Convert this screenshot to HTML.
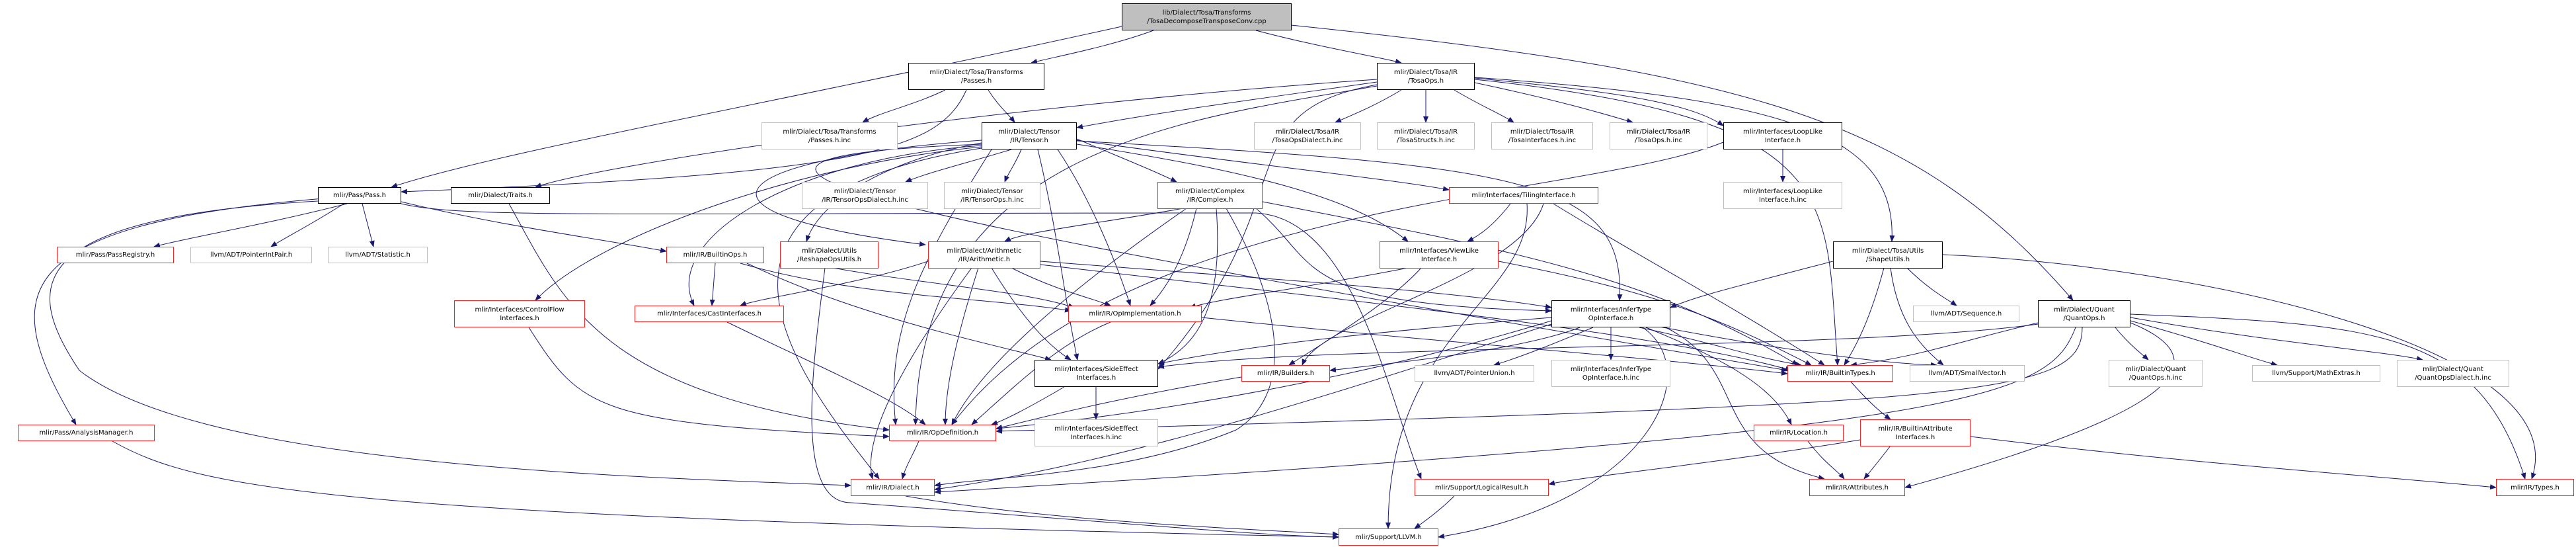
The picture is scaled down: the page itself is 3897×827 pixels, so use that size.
<!DOCTYPE html>
<html><head><meta charset="utf-8"><style>
html,body{margin:0;padding:0;background:#fff;}
body{width:3897px;height:827px;position:relative;overflow:hidden;font-family:"DejaVu Sans","Liberation Sans",sans-serif;}
.n{position:absolute;box-sizing:border-box;border:1.3px solid #000;background:#fff;font-size:10px;line-height:13px;color:#000;text-align:center;display:flex;align-items:center;justify-content:center;white-space:nowrap;}
.r{border-color:#ff2020;}
.g{border-color:#bfbfbf;}
.root{background:#bfbfbf;}
svg{position:absolute;left:0;top:0;}
</style></head><body>
<svg width="3897" height="827" viewBox="0 0 3897 827">
<defs><marker id="a" viewBox="0 0 10 10" refX="9" refY="5" markerWidth="10" markerHeight="10" markerUnits="userSpaceOnUse" orient="auto"><path d="M0,1 L10,5 L0,9 z" fill="#191970"/></marker></defs>
<g fill="none" stroke="#191970" stroke-width="1" marker-end="url(#a)">
<path d="M1697,40 C1200,150 750,230 592,283"/>
<path d="M1745,46 C1680,70 1600,85 1560,95"/>
<path d="M1900,46 C1990,70 2080,85 2120,95"/>
<path d="M1953,38 C2650,110 2900,180 3136,454"/>
<path d="M1430,136 C1380,160 1330,170 1305,185"/>
<path d="M1495,136 C1510,160 1525,172 1535,185"/>
<path d="M1462,136 C1420,230 1300,262 607,290"/>
<path d="M2083,124 C1900,150 1750,170 1629,193"/>
<path d="M2120,136 C2080,160 2050,172 2020,185"/>
<path d="M2157,136 L2157,185"/>
<path d="M2200,136 C2240,160 2270,172 2290,185"/>
<path d="M2231,125 C2350,150 2420,170 2470,185"/>
<path d="M2231,118 C2400,135 2550,150 2607,190"/>
<path d="M2231,117 C2700,150 2870,200 2862,365"/>
<path d="M2231,120 C2800,180 2760,300 2780,552"/>
<path d="M2083,128 C1850,170 1980,300 1752,558"/>
<path d="M2083,120 C1500,160 900,250 810,283"/>
<path d="M2083,130 C1800,180 1390,220 1385,642"/>
<path d="M1530,226 C1450,250 1400,262 1370,275"/>
<path d="M1545,226 C1535,250 1525,262 1520,275"/>
<path d="M1629,210 C1700,240 1750,260 1780,275"/>
<path d="M1629,212 C1900,250 2100,270 2192,287"/>
<path d="M1629,218 C1900,260 2050,300 2130,365"/>
<path d="M1629,213 C2300,250 2460,270 2450,454"/>
<path d="M1600,226 C1650,300 1690,400 1710,462"/>
<path d="M1570,226 C1600,350 1610,450 1630,544"/>
<path d="M1485,212 C1100,240 1000,320 1400,370"/>
<path d="M1485,216 C1350,240 1240,300 1220,365"/>
<path d="M1485,220 C1200,240 1000,360 1050,462"/>
<path d="M1485,222 C1200,250 900,360 810,454"/>
<path d="M1485,218 C900,240 1350,330 2704,560"/>
<path d="M1485,224 C1000,300 1200,560 1330,724"/>
<path d="M1500,226 C1390,400 1340,500 1355,642"/>
<path d="M490,300 C0,340 0,450 115,642"/>
<path d="M481,304 C20,330 40,440 120,560 C300,700 900,720 1287,734"/>
<path d="M525,308 C400,340 280,360 233,373"/>
<path d="M520,308 C470,340 430,360 410,373"/>
<path d="M548,308 L565,373"/>
<path d="M607,305 C750,340 900,360 1008,380"/>
<path d="M607,308 C700,330 900,322 1900,322 C2050,330 2100,600 2150,724"/>
<path d="M770,308 C850,450 900,600 1345,650"/>
<path d="M1082,398 L1077,462"/>
<path d="M1120,398 C1300,450 1500,450 1620,470"/>
<path d="M1130,398 C1300,480 1500,520 1590,544"/>
<path d="M1248,405 C1230,550 1200,760 1287,760 C1700,790 1900,810 2025,812"/>
<path d="M1260,405 C1400,430 1550,440 1625,465"/>
<path d="M800,495 C880,620 900,640 1345,660"/>
<path d="M1100,487 C1250,560 1350,600 1400,642"/>
<path d="M1790,315 C1650,340 1550,350 1520,365"/>
<path d="M1810,315 C1790,400 1760,440 1740,462"/>
<path d="M1795,315 C1600,450 1480,560 1440,642"/>
<path d="M1840,315 C1850,450 1820,520 1752,550"/>
<path d="M1900,315 C2000,400 1950,460 2347,470"/>
<path d="M1910,305 C2300,380 2500,420 2720,552"/>
<path d="M1855,315 C1950,480 1950,600 1870,650 C1700,720 1500,720 1414,734"/>
<path d="M1480,405 C1450,500 1430,580 1430,642"/>
<path d="M1500,405 C1540,470 1580,520 1620,544"/>
<path d="M1530,405 C1600,440 1650,450 1680,462"/>
<path d="M1574,395 C1900,420 2200,440 2347,465"/>
<path d="M1404,395 C1300,430 1150,450 1120,462"/>
<path d="M1470,405 C1400,500 1300,650 1320,724"/>
<path d="M1574,400 C2000,450 2500,500 2710,560"/>
<path d="M2285,308 C2260,340 2240,355 2220,365"/>
<path d="M2335,308 C2300,420 2000,480 1970,552"/>
<path d="M2350,308 C2500,400 2600,450 2760,552"/>
<path d="M2310,308 C2320,450 2100,500 2100,799"/>
<path d="M2130,405 C1950,440 1850,450 1800,465"/>
<path d="M2150,405 C2100,460 2000,520 1950,552"/>
<path d="M2267,395 C2500,440 2600,480 2740,552"/>
<path d="M1680,487 C1600,520 1540,580 1470,642"/>
<path d="M1818,480 C2200,520 2500,540 2704,565"/>
<path d="M2347,480 C2100,500 1900,520 1752,550"/>
<path d="M2390,495 C2300,530 2100,550 2012,560"/>
<path d="M2410,495 C2350,520 2300,540 2260,552"/>
<path d="M2437,495 L2437,544"/>
<path d="M2347,485 C2100,560 1800,620 1507,648"/>
<path d="M2480,495 C2600,520 2650,540 2725,552"/>
<path d="M2500,492 C2700,530 2850,550 2930,552"/>
<path d="M2490,495 C2600,540 2680,580 2710,642"/>
<path d="M2520,495 C2650,560 2580,680 2760,724"/>
<path d="M2485,495 C2580,560 2500,760 2176,812"/>
<path d="M2347,490 C2000,600 1700,700 1414,740"/>
<path d="M1658,585 L1658,634"/>
<path d="M1610,585 C1550,620 1520,635 1500,642"/>
<path d="M1878,570 C1700,600 1600,625 1507,648"/>
<path d="M1390,667 C1380,690 1370,705 1365,724"/>
<path d="M1370,750 C1600,790 1900,800 2025,808"/>
<path d="M2200,750 C2180,770 2160,785 2140,799"/>
<path d="M170,667 C300,740 500,780 2025,812"/>
<path d="M2800,577 C2820,600 2840,620 2860,634"/>
<path d="M2860,674 C2840,700 2830,712 2820,724"/>
<path d="M2981,660 C3300,700 3600,720 3776,737"/>
<path d="M2814,665 C2600,700 2400,720 2343,732"/>
<path d="M2735,667 C2760,700 2780,712 2790,724"/>
<path d="M2773,395 C2600,440 2560,450 2527,465"/>
<path d="M2850,405 C2830,480 2810,520 2790,552"/>
<path d="M2885,405 C2920,440 2950,455 2960,462"/>
<path d="M2860,405 C2870,480 2900,520 2940,552"/>
<path d="M2939,385 C3300,400 3900,520 3830,724"/>
<path d="M3200,495 C3220,520 3240,535 3250,544"/>
<path d="M3223,485 C3350,520 3400,540 3445,552"/>
<path d="M3223,480 C3450,520 3600,530 3665,544"/>
<path d="M3223,475 C3600,490 3750,500 3820,724"/>
<path d="M3083,488 C2950,520 2900,540 2800,552"/>
<path d="M3083,490 C2800,530 2000,520 1752,555"/>
<path d="M3223,488 C3400,560 3200,650 2882,737"/>
<path d="M3150,495 C3150,600 3000,610 1507,652"/>
<path d="M3140,495 C3100,600 3000,650 1414,744"/>
<path d="M2697,226 L2697,275"/>
<path d="M2607,215 C2400,300 1700,300 1440,642"/>
</g>
</svg>

<div class="n root" style="left:1697px;top:5px;width:257px;height:41px">lib/Dialect/Tosa/Transforms<br>/TosaDecomposeTransposeConv.cpp</div>
<div class="n" style="left:1374px;top:95px;width:206px;height:41px">mlir/Dialect/Tosa/Transforms<br>/Passes.h</div>
<div class="n" style="left:2083px;top:95px;width:148px;height:41px">mlir/Dialect/Tosa/IR<br>/TosaOps.h</div>
<div class="n g" style="left:1152px;top:185px;width:206px;height:41px">mlir/Dialect/Tosa/Transforms<br>/Passes.h.inc</div>
<div class="n" style="left:1485px;top:185px;width:144px;height:41px">mlir/Dialect/Tensor<br>/IR/Tensor.h</div>
<div class="n g" style="left:1897px;top:185px;width:162px;height:41px">mlir/Dialect/Tosa/IR<br>/TosaOpsDialect.h.inc</div>
<div class="n g" style="left:2083px;top:185px;width:148px;height:41px">mlir/Dialect/Tosa/IR<br>/TosaStructs.h.inc</div>
<div class="n g" style="left:2256px;top:185px;width:154px;height:41px">mlir/Dialect/Tosa/IR<br>/TosaInterfaces.h.inc</div>
<div class="n g" style="left:2435px;top:185px;width:148px;height:41px">mlir/Dialect/Tosa/IR<br>/TosaOps.h.inc</div>
<div class="n" style="left:2607px;top:185px;width:180px;height:41px">mlir/Interfaces/LoopLike<br>Interface.h</div>
<div class="n" style="left:481px;top:283px;width:126px;height:25px">mlir/Pass/Pass.h</div>
<div class="n" style="left:682px;top:283px;width:150px;height:25px">mlir/Dialect/Traits.h</div>
<div class="n g" style="left:1213px;top:275px;width:191px;height:41px">mlir/Dialect/Tensor<br>/IR/TensorOpsDialect.h.inc</div>
<div class="n g" style="left:1428px;top:275px;width:146px;height:41px">mlir/Dialect/Tensor<br>/IR/TensorOps.h.inc</div>
<div class="n r" style="left:1751px;top:275px;width:159px;height:41px">mlir/Dialect/Complex<br>/IR/Complex.h</div>
<div class="n r" style="left:2192px;top:283px;width:226px;height:25px">mlir/Interfaces/TilingInterface.h</div>
<div class="n g" style="left:2607px;top:275px;width:180px;height:41px">mlir/Interfaces/LoopLike<br>Interface.h.inc</div>
<div class="n r" style="left:86px;top:373px;width:177px;height:25px">mlir/Pass/PassRegistry.h</div>
<div class="n g" style="left:288px;top:373px;width:184px;height:25px">llvm/ADT/PointerIntPair.h</div>
<div class="n g" style="left:496px;top:373px;width:151px;height:25px">llvm/ADT/Statistic.h</div>
<div class="n r" style="left:1008px;top:373px;width:148px;height:25px">mlir/IR/BuiltinOps.h</div>
<div class="n r" style="left:1180px;top:365px;width:149px;height:41px">mlir/Dialect/Utils<br>/ReshapeOpsUtils.h</div>
<div class="n r" style="left:1404px;top:365px;width:170px;height:41px">mlir/Dialect/Arithmetic<br>/IR/Arithmetic.h</div>
<div class="n r" style="left:2087px;top:365px;width:180px;height:41px">mlir/Interfaces/ViewLike<br>Interface.h</div>
<div class="n" style="left:2773px;top:365px;width:166px;height:41px">mlir/Dialect/Tosa/Utils<br>/ShapeUtils.h</div>
<div class="n r" style="left:687px;top:454px;width:198px;height:41px">mlir/Interfaces/ControlFlow<br>Interfaces.h</div>
<div class="n r" style="left:960px;top:462px;width:226px;height:25px">mlir/Interfaces/CastInterfaces.h</div>
<div class="n r" style="left:1616px;top:462px;width:202px;height:25px">mlir/IR/OpImplementation.h</div>
<div class="n" style="left:2347px;top:454px;width:180px;height:41px">mlir/Interfaces/InferType<br>OpInterface.h</div>
<div class="n g" style="left:2894px;top:462px;width:161px;height:25px">llvm/ADT/Sequence.h</div>
<div class="n" style="left:3083px;top:454px;width:140px;height:41px">mlir/Dialect/Quant<br>/QuantOps.h</div>
<div class="n" style="left:1565px;top:544px;width:187px;height:41px">mlir/Interfaces/SideEffect<br>Interfaces.h</div>
<div class="n r" style="left:1878px;top:552px;width:134px;height:25px">mlir/IR/Builders.h</div>
<div class="n g" style="left:2140px;top:552px;width:181px;height:25px">llvm/ADT/PointerUnion.h</div>
<div class="n g" style="left:2347px;top:544px;width:180px;height:41px">mlir/Interfaces/InferType<br>OpInterface.h.inc</div>
<div class="n r" style="left:2704px;top:552px;width:160px;height:25px">mlir/IR/BuiltinTypes.h</div>
<div class="n g" style="left:2889px;top:552px;width:174px;height:25px">llvm/ADT/SmallVector.h</div>
<div class="n g" style="left:3190px;top:544px;width:142px;height:41px">mlir/Dialect/Quant<br>/QuantOps.h.inc</div>
<div class="n g" style="left:3407px;top:552px;width:194px;height:25px">llvm/Support/MathExtras.h</div>
<div class="n g" style="left:3626px;top:544px;width:170px;height:41px">mlir/Dialect/Quant<br>/QuantOpsDialect.h.inc</div>
<div class="n r" style="left:27px;top:642px;width:207px;height:25px">mlir/Pass/AnalysisManager.h</div>
<div class="n r" style="left:1345px;top:642px;width:162px;height:25px">mlir/IR/OpDefinition.h</div>
<div class="n g" style="left:1565px;top:634px;width:187px;height:41px">mlir/Interfaces/SideEffect<br>Interfaces.h.inc</div>
<div class="n r" style="left:2653px;top:642px;width:136px;height:25px">mlir/IR/Location.h</div>
<div class="n r" style="left:2814px;top:634px;width:167px;height:41px">mlir/IR/BuiltinAttribute<br>Interfaces.h</div>
<div class="n r" style="left:1287px;top:724px;width:127px;height:26px">mlir/IR/Dialect.h</div>
<div class="n r" style="left:2140px;top:724px;width:203px;height:26px">mlir/Support/LogicalResult.h</div>
<div class="n r" style="left:2737px;top:724px;width:145px;height:26px">mlir/IR/Attributes.h</div>
<div class="n r" style="left:3776px;top:724px;width:118px;height:26px">mlir/IR/Types.h</div>
<div class="n r" style="left:2025px;top:799px;width:151px;height:26px">mlir/Support/LLVM.h</div>
</body></html>
